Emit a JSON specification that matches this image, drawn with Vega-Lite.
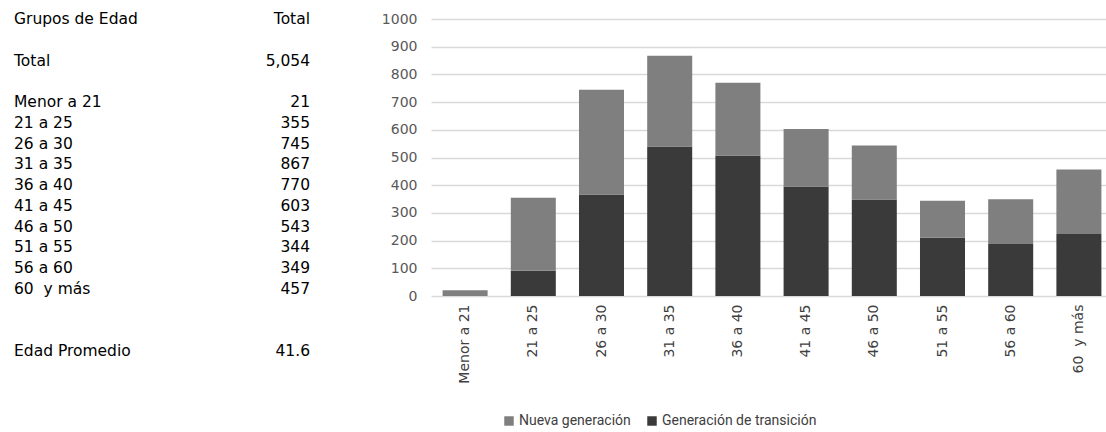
{
  "$schema": "https://vega.github.io/schema/vega-lite/v6.json",
  "padding": {"left": 14, "top": 12, "right": 0, "bottom": 0},
  "background": "white",
  "spacing": 71,
  "config": {
    "view": {"stroke": null},
    "font": "DejaVu Sans",
    "axis": {"labelFont": "DejaVu Sans", "labelFontSize": 14, "labelColor": "#595959"}
  },
  "datasets": {
    "tabla": [
      {"fila": "Grupos de Edad", "valor": "Total"},
      {"fila": "Total", "valor": "5,054"},
      {"fila": "Menor a 21", "valor": "21"},
      {"fila": "21 a 25", "valor": "355"},
      {"fila": "26 a 30", "valor": "745"},
      {"fila": "31 a 35", "valor": "867"},
      {"fila": "36 a 40", "valor": "770"},
      {"fila": "41 a 45", "valor": "603"},
      {"fila": "46 a 50", "valor": "543"},
      {"fila": "51 a 55", "valor": "344"},
      {"fila": "56 a 60", "valor": "349"},
      {"fila": "60\u00a0 y más", "valor": "457"},
      {"fila": "Edad Promedio", "valor": "41.6"}
    ],
    "barras": [
      {"grupo": "Menor a 21", "serie": "Generación de transición", "valor": 0},
      {"grupo": "Menor a 21", "serie": "Nueva generación", "valor": 21},
      {"grupo": "21 a 25", "serie": "Generación de transición", "valor": 91},
      {"grupo": "21 a 25", "serie": "Nueva generación", "valor": 264},
      {"grupo": "26 a 30", "serie": "Generación de transición", "valor": 366},
      {"grupo": "26 a 30", "serie": "Nueva generación", "valor": 379},
      {"grupo": "31 a 35", "serie": "Generación de transición", "valor": 540},
      {"grupo": "31 a 35", "serie": "Nueva generación", "valor": 327},
      {"grupo": "36 a 40", "serie": "Generación de transición", "valor": 507},
      {"grupo": "36 a 40", "serie": "Nueva generación", "valor": 263},
      {"grupo": "41 a 45", "serie": "Generación de transición", "valor": 395},
      {"grupo": "41 a 45", "serie": "Nueva generación", "valor": 208},
      {"grupo": "46 a 50", "serie": "Generación de transición", "valor": 348},
      {"grupo": "46 a 50", "serie": "Nueva generación", "valor": 195},
      {"grupo": "51 a 55", "serie": "Generación de transición", "valor": 210},
      {"grupo": "51 a 55", "serie": "Nueva generación", "valor": 134},
      {"grupo": "56 a 60", "serie": "Generación de transición", "valor": 188},
      {"grupo": "56 a 60", "serie": "Nueva generación", "valor": 161},
      {"grupo": "60\u00a0 y más", "serie": "Generación de transición", "valor": 224},
      {"grupo": "60\u00a0 y más", "serie": "Nueva generación", "valor": 233}
    ]
  },
  "hconcat": [
    {
      "width": 296,
      "height": 332,
      "data": {"name": "tabla"},
      "encoding": {
        "y": {
          "field": "fila", "type": "ordinal", "axis": null,
          "scale": {"type": "point", "padding": 0, "domain": ["Grupos de Edad", "_1", "Total", "_2", "Menor a 21", "21 a 25", "26 a 30", "31 a 35", "36 a 40", "41 a 45", "46 a 50", "51 a 55", "56 a 60", "60\u00a0 y más", "_3", "_4", "Edad Promedio"]}
        }
      },
      "layer": [
        {
          "mark": {"type": "text", "align": "left", "baseline": "middle", "font": "DejaVu Sans", "fontSize": 15.5, "color": "#000000"},
          "encoding": {
            "x": {"datum": "etiqueta", "type": "ordinal", "axis": null, "scale": {"type": "point", "padding": 0, "domain": ["etiqueta", "total"]}},
            "text": {"field": "fila"}
          }
        },
        {
          "mark": {"type": "text", "align": "right", "baseline": "middle", "font": "DejaVu Sans", "fontSize": 15.5, "color": "#000000"},
          "encoding": {
            "x": {"datum": "total", "type": "ordinal", "axis": null, "scale": {"type": "point", "padding": 0, "domain": ["etiqueta", "total"]}},
            "text": {"field": "valor"}
          }
        }
      ]
    },
    {
      "width": 682,
      "height": 277,
      "data": {"name": "barras"},
      "mark": {"type": "bar"},
      "encoding": {
        "x": {
          "field": "grupo", "type": "nominal", "sort": null,
          "scale": {"paddingInner": 0.34, "paddingOuter": 0.17},
          "axis": {"title": null, "labelAngle": -90, "ticks": false, "domain": false, "labelPadding": 8, "labelColor": "#404040"}
        },
        "y": {
          "field": "valor", "type": "quantitative", "stack": "zero",
          "scale": {"domain": [0, 1000]},
          "axis": {"title": null, "format": "d", "labelOverlap": false, "values": [0, 100, 200, 300, 400, 500, 600, 700, 800, 900, 1000], "ticks": false, "domain": false, "labelPadding": 14, "gridColor": "#d9d9d9", "gridWidth": 1.5}
        },
        "color": {
          "field": "serie", "type": "nominal",
          "scale": {"domain": ["Nueva generación", "Generación de transición"], "range": ["#7f7f7f", "#3a3a3a"]},
          "legend": {
            "title": null, "orient": "none", "legendX": 488, "legendY": 395, "direction": "horizontal",
            "symbolType": "square", "symbolSize": 90, "symbolStrokeWidth": 0,
            "labelFont": "Roboto", "labelFontSize": 14, "labelColor": "#404040", "labelLimit": 400,
            "columnPadding": 14, "labelOffset": 3
          }
        },
        "order": {"field": "serie", "sort": "ascending"}
      }
    }
  ]
}
